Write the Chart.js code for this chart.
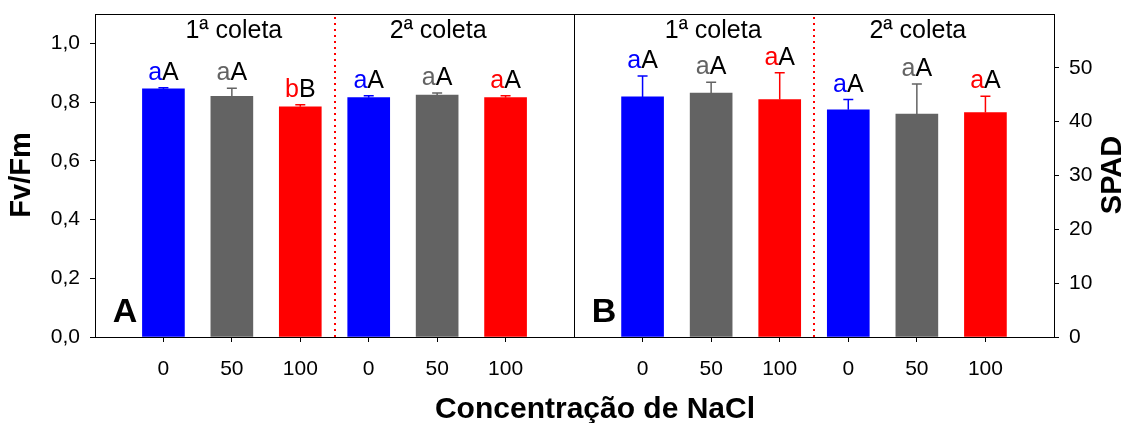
<!DOCTYPE html>
<html>
<head>
<meta charset="utf-8">
<script src="https://cdn.jsdelivr.net/npm/chart.js@4.4.1/dist/chart.umd.min.js"></script>
<style>
  html, body { margin: 0; padding: 0; background: #fff; }
  #wrap { position: relative; width: 1130px; height: 423px; }
  #wrap canvas { position: absolute; left: 0; top: 0; }
</style>
</head>
<body>
<div id="wrap">
  <canvas id="chartA" width="1130" height="423"></canvas>
  <canvas id="chartB" width="1130" height="423"></canvas>
</div>
<script>
const doses = ['0', '50', '100', '0', '50', '100'];
const coletas = ['1ª coleta', '2ª coleta'];
const barColors = ['#0000ff', '#636363', '#ff0000', '#0000ff', '#636363', '#ff0000'];

const fvfm = [0.845, 0.820, 0.784, 0.815, 0.824, 0.815];
const fvfmErr = [0.004, 0.027, 0.007, 0.007, 0.007, 0.007];
const fvfmLower = ['a', 'a', 'b', 'a', 'a', 'a'];
const fvfmUpper = ['A', 'A', 'B', 'A', 'A', 'A'];
const fvfmTicks = [0, 0.2, 0.4, 0.6, 0.8, 1.0];

const spad = [44.6, 45.3, 44.1, 42.2, 41.4, 41.7];
const spadErr = [3.9, 2.0, 5.0, 1.9, 5.6, 3.0];
const spadLower = ['a', 'a', 'a', 'a', 'a', 'a'];
const spadUpper = ['A', 'A', 'A', 'A', 'A', 'A'];
const spadTicks = [0, 10, 20, 30, 40, 50];

const FONT = '"Liberation Sans", Arial, Helvetica, sans-serif';
Chart.defaults.font.family = FONT;
Chart.defaults.color = '#000';

// frame, divider, error bars, letters and titles for one panel
function panelPlugin(p) {
  return {
    id: 'panel' + p.letter,
    afterDatasetsDraw(chart) {
      const { ctx, chartArea: a } = chart;
      const x = chart.scales.x, y = chart.scales.y;
      ctx.save();

      ctx.strokeStyle = '#000';
      ctx.lineWidth = 1;
      ctx.strokeRect(a.left + 0.5, a.top + 0.5, a.right - a.left, a.bottom - a.top);

      const xd = Math.round(x.getPixelForValue(2.5));
      ctx.strokeStyle = '#ff0000';
      ctx.lineWidth = 2;
      ctx.setLineDash([2, 4]);
      ctx.beginPath();
      ctx.moveTo(xd, a.top + 3);
      ctx.lineTo(xd, a.bottom);
      ctx.stroke();
      ctx.setLineDash([]);

      p.values.forEach((v, i) => {
        const px = x.getPixelForValue(i);
        const y0 = y.getPixelForValue(v);
        const y1 = y.getPixelForValue(v + p.errs[i]);
        ctx.strokeStyle = barColors[i];
        ctx.lineWidth = 1.5;
        ctx.beginPath();
        ctx.moveTo(px, y0);
        ctx.lineTo(px, y1);
        ctx.moveTo(px - 5, y1);
        ctx.lineTo(px + 5, y1);
        ctx.stroke();

        ctx.font = '25px ' + FONT;
        const wl = ctx.measureText(p.lower[i]).width;
        const wu = ctx.measureText(p.upper[i]).width;
        const sx = px - (wl + wu) / 2;
        ctx.textAlign = 'left';
        ctx.textBaseline = 'alphabetic';
        ctx.fillStyle = barColors[i];
        ctx.fillText(p.lower[i], sx, y1 - 8);
        ctx.fillStyle = '#000';
        ctx.fillText(p.upper[i], sx + wl, y1 - 8);
      });

      ctx.fillStyle = '#000';
      ctx.textAlign = 'center';
      ctx.textBaseline = 'alphabetic';
      ctx.font = '25px ' + FONT;
      ctx.fillText(coletas[0], x.getPixelForValue(1) + 2, a.top + 24);
      ctx.fillText(coletas[1], x.getPixelForValue(4) + 1, a.top + 24);

      ctx.font = 'bold 34px ' + FONT;
      ctx.fillText(p.letter, a.left + 30, a.bottom - 15);

      ctx.save();
      ctx.translate(p.titleX, 175);
      ctx.rotate(-Math.PI / 2);
      ctx.font = 'bold 29px ' + FONT;
      ctx.textBaseline = 'middle';
      ctx.fillText(p.yTitle, 0, 0);
      ctx.restore();

      if (p.xTitle) {
        ctx.font = 'bold 30px ' + FONT;
        ctx.fillText(p.xTitle, 595, 418);
      }
      ctx.restore();
    }
  };
}

function renderPanel(canvasId, values, opts) {
  const ctx = document.getElementById(canvasId).getContext('2d');
  return new Chart(ctx, {
    type: 'bar',
    data: {
      datasets: [{
        data: values.map((v, i) => ({ x: i, y: v })),
        backgroundColor: barColors,
        borderWidth: 0,
        barThickness: 42
      }]
    },
    options: {
      responsive: false,
      animation: false,
      layout: { padding: opts.padding },
      plugins: { legend: { display: false }, tooltip: { enabled: false } },
      scales: {
        x: {
          type: 'linear',
          offset: false,
          min: -1,
          max: 6,
          afterBuildTicks: (axis) => { axis.ticks = doses.map((_, i) => ({ value: i })); },
          afterFit: (scale) => {
            scale.height = 86;
            scale.paddingLeft = 0;
            scale.paddingRight = 0;
          },
          ticks: {
            callback: (v) => doses[v],
            font: { size: 21 },
            padding: 15,
            maxRotation: 0,
            autoSkip: false
          },
          grid: { offset: false, drawOnChartArea: false, color: '#000', tickLength: 5 },
          border: { color: '#000', width: 1 }
        },
        y: {
          position: opts.yPos,
          min: 0,
          max: opts.yMax,
          afterBuildTicks: (axis) => { axis.ticks = opts.ticks.map(v => ({ value: v })); },
          afterFit: (scale) => {
            scale.width = opts.yWidth;
            scale.paddingTop = 0;
            scale.paddingBottom = 0;
          },
          ticks: {
            callback: opts.fmt,
            font: { size: 21 },
            padding: 10
          },
          grid: { drawOnChartArea: false, color: '#000', tickLength: 5 },
          border: { color: '#000', width: 1 }
        }
      }
    },
    plugins: [panelPlugin(opts.panel)]
  });
}

renderPanel('chartA', fvfm, {
  padding: { left: 0, top: 14, right: 556, bottom: 0 },
  yPos: 'left',
  yMax: 1.1,
  yWidth: 95,
  ticks: fvfmTicks,
  fmt: (v) => v.toFixed(1).replace('.', ','),
  panel: {
    letter: 'A', values: fvfm, errs: fvfmErr, lower: fvfmLower, upper: fvfmUpper,
    yTitle: 'Fv/Fm', titleX: 22, xTitle: 'Concentração de NaCl'
  }
});

renderPanel('chartB', spad, {
  padding: { left: 574, top: 14, right: 0, bottom: 0 },
  yPos: 'right',
  yMax: 60,
  yWidth: 76,
  ticks: spadTicks,
  fmt: (v) => String(v),
  panel: {
    letter: 'B', values: spad, errs: spadErr, lower: spadLower, upper: spadUpper,
    yTitle: 'SPAD', titleX: 1113, xTitle: null
  }
});
</script>
</body>
</html>
